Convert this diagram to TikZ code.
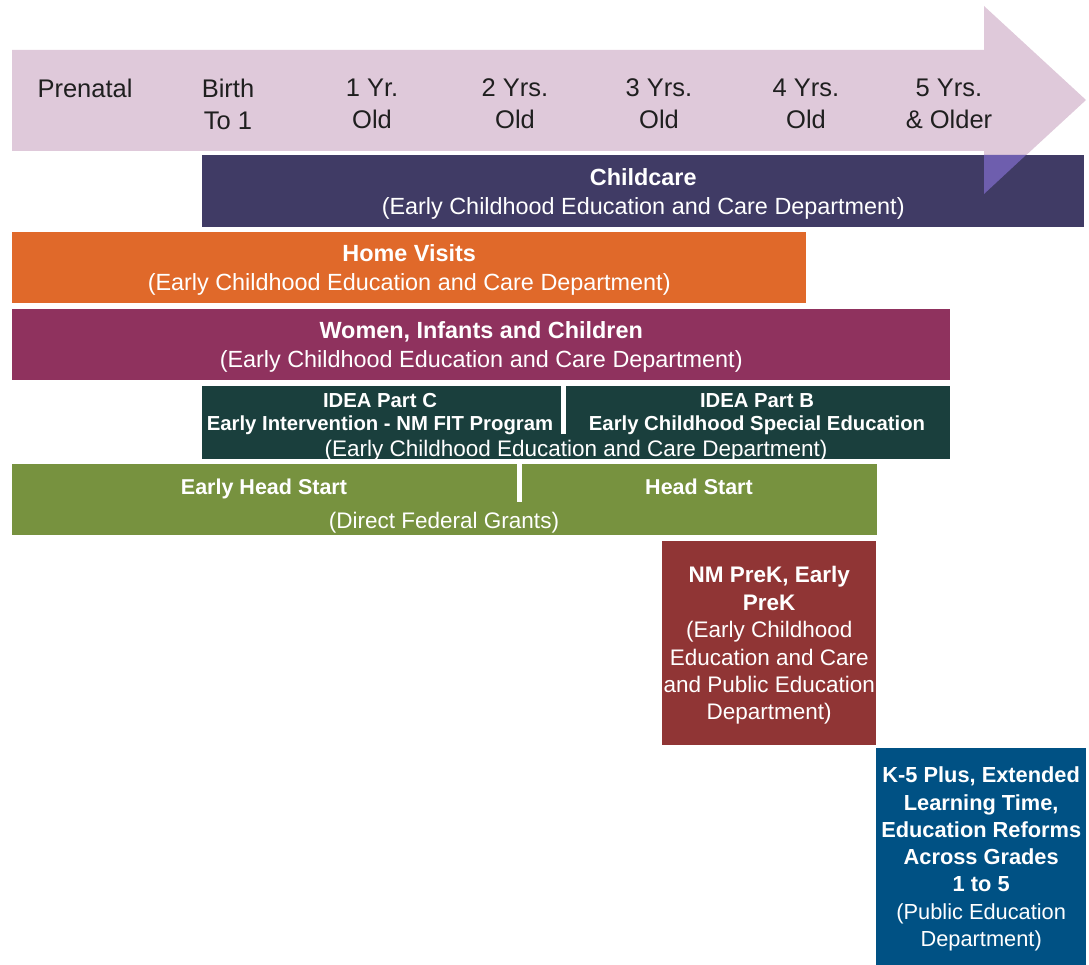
\documentclass[tikz,border=0pt]{standalone}
\usepackage{fontspec}
\setmainfont{Liberation Sans}
\usepackage{xcolor}
\usepackage{tikz}

\definecolor{timeline}{HTML}{DFC9DA}
\definecolor{overlap}{HTML}{6E5EAE}
\definecolor{ccare}{HTML}{403B65}
\definecolor{homev}{HTML}{E0692A}
\definecolor{wic}{HTML}{8F325E}
\definecolor{idea}{HTML}{1A3F3D}
\definecolor{headst}{HTML}{77923F}
\definecolor{prek}{HTML}{903535}
\definecolor{kfive}{HTML}{005184}

\begin{document}
\begin{tikzpicture}[x=1pt, y=-1pt,
  age/.style={align=center, text=black!88, font=\fontsize{25.5}{32}\selectfont},
  bar/.style={anchor=north west, inner sep=0pt, text depth=0pt, text=white, align=center, font=\fontsize{23.4}{29}\selectfont},
  small/.style={text=white, inner sep=0pt, text depth=0pt, align=center, font=\fontsize{20.3}{22.5}\selectfont\bfseries},
  sub/.style={text=white, inner sep=0pt, text depth=0pt, font=\fontsize{22.5}{27}\selectfont}]
  \useasboundingbox (0,0) rectangle (1089,965);

  \fill [timeline] (12,50) -- (984,50) -- (984,6) -- (1086,100) -- (984,194) -- (984,151) -- (12,151) -- cycle;
  \node [age] (pre) at (85,88) {Prenatal};
  \node [age] (y0) at (228,104) {Birth\\To 1};
  \node [age] (y1) at (372,104) {1 Yr.\\Old};
  \node [age] (y2) at (515,104) {2 Yrs.\\Old};
  \node [age] (y3) at (659,104) {3 Yrs.\\Old};
  \node [age] (y4) at (806,104) {4 Yrs.\\Old};
  \node [age] (y5) at (949,104) {5 Yrs.\\\& Older};

  \node [bar, fill=ccare, minimum width=882, minimum height=72] (childcare) at (202,155)
    {\textbf{Childcare}\\(Early Childhood Education and Care Department)};
  \fill [overlap] (984,155) -- (1026,155) -- (984,194) -- cycle;

  \node [bar, fill=homev, minimum width=794, minimum height=71] (home) at (12,232)
    {\textbf{Home Visits}\\(Early Childhood Education and Care Department)};
  \node [bar, fill=wic, minimum width=938, minimum height=71] (women) at (12,309)
    {\textbf{Women, Infants and Children}\\(Early Childhood Education and Care Department)};

  \node [bar, fill=idea, minimum width=748, minimum height=73] (ideabar) at (202,386) {};
  \draw [white, line width=5pt] (563,386) -- (563,434);
  \node [small] (partc) at (380,412) {IDEA Part C\\Early Intervention - NM FIT Program};
  \node [small] (partb) at (757,412) {IDEA Part B\\Early Childhood Special Education};
  \node [sub] (ideadept) at (576,448) {(Early Childhood Education and Care Department)};

  \node [bar, fill=headst, minimum width=865, minimum height=71] (hsbar) at (12,464) {};
  \draw [white, line width=5pt] (519,464) -- (519,502);
  \node [sub, font=\fontsize{21.5}{27}\selectfont\bfseries] (ehs) at (264,487) {Early Head Start};
  \node [sub, font=\fontsize{21.5}{27}\selectfont\bfseries] (hs) at (699,487) {Head Start};
  \node [sub] (grants) at (444,520) {(Direct Federal Grants)};

  \node [bar, fill=prek, minimum width=214, minimum height=204, font=\fontsize{22.5}{27.4}\selectfont] (nmprek) at (662,541)
    {\textbf{NM PreK, Early}\\\textbf{PreK}\\(Early Childhood\\Education and Care\\and Public Education\\Department)};
  \node [bar, fill=kfive, minimum width=210, minimum height=217, font=\fontsize{21.8}{27.3}\selectfont] (kplus) at (876,748)
    {\textbf{K-5 Plus, Extended}\\\textbf{Learning Time,}\\\textbf{Education Reforms}\\\textbf{Across Grades}\\\textbf{1 to 5}\\(Public Education\\Department)};
\end{tikzpicture}
\end{document}
